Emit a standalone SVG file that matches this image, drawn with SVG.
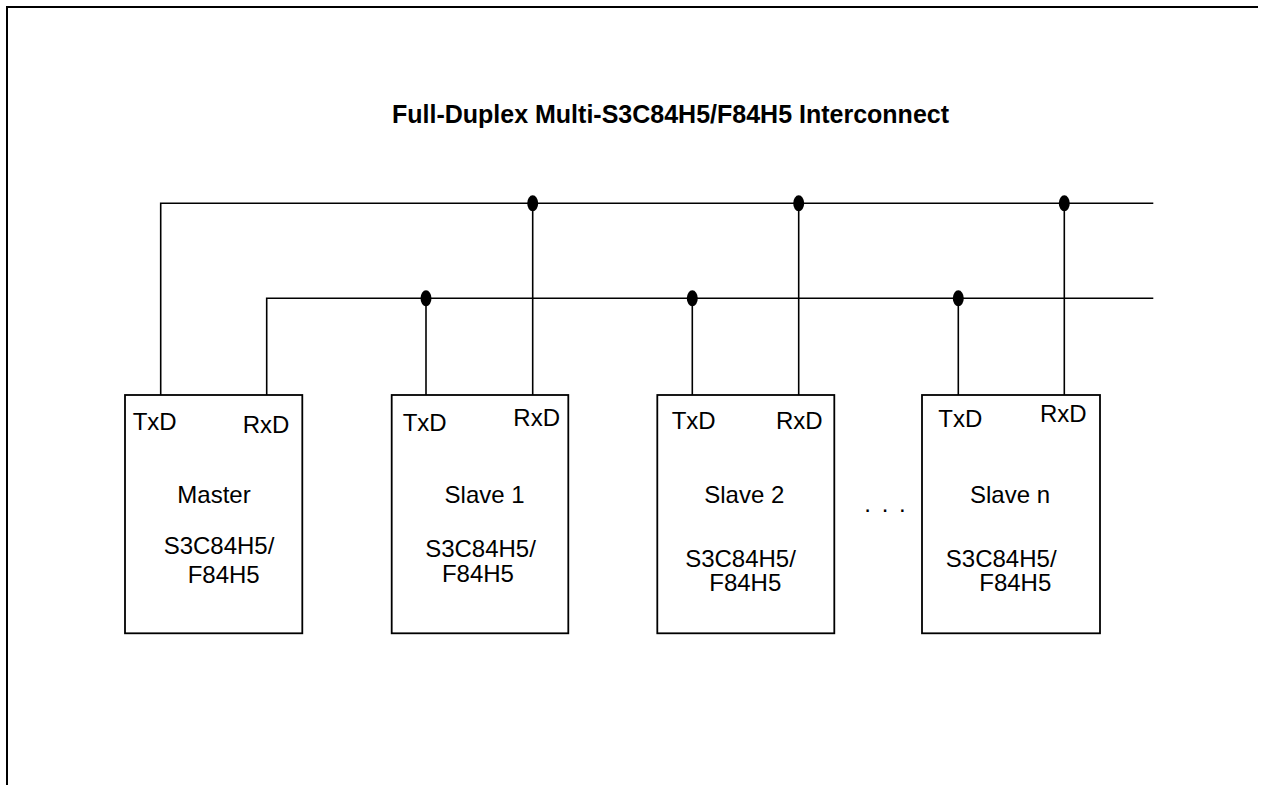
<svg xmlns="http://www.w3.org/2000/svg" width="1265" height="785" viewBox="0 0 1265 785">
<style>
.frame{fill:none;stroke:#000;stroke-width:2}
.box{fill:#fff;stroke:#000;stroke-width:1.8}
.wire{fill:none;stroke:#000;stroke-width:1.6}
.dot{fill:#000}
text{font-family:"Liberation Sans",Arial,sans-serif;font-size:24px;fill:#000}
.title{font-weight:bold;font-size:25px}
.c{text-anchor:middle}
</style>
<rect width="1265" height="785" fill="#fff"/>
<path class="frame" d="M7,785 V7 H1258"/>
<text class="title c" x="670.5" y="122.7">Full-Duplex Multi-S3C84H5/F84H5 Interconnect</text>
<g id="connectors">
<path class="wire" d="M160.7,395 V203.3 H1153.3"/>
<path class="wire" d="M266.7,395 V298.3 H1153.3"/>
<path class="wire" d="M426,395 V298.3"/>
<path class="wire" d="M532.7,395 V203.3"/>
<path class="wire" d="M692.3,395 V298.3"/>
<path class="wire" d="M798.7,395 V203.3"/>
<path class="wire" d="M958.3,395 V298.3"/>
<path class="wire" d="M1064.3,395 V203.3"/>
<ellipse class="dot" cx="532.7" cy="203.3" rx="5.5" ry="8"/>
<ellipse class="dot" cx="798.7" cy="203.3" rx="5.5" ry="8"/>
<ellipse class="dot" cx="1064.3" cy="203.3" rx="5.5" ry="8"/>
<ellipse class="dot" cx="426" cy="298.3" rx="5.5" ry="8"/>
<ellipse class="dot" cx="692.3" cy="298.3" rx="5.5" ry="8"/>
<ellipse class="dot" cx="958.3" cy="298.3" rx="5.5" ry="8"/>
</g>
<g id="master">
<rect class="box" x="125" y="395" width="177.3" height="238.3"/>
<text x="132.7" y="430">TxD</text>
<text x="242.7" y="433">RxD</text>
<text class="c" x="214" y="503.3">Master</text>
<text class="c" x="219" y="553.5">S3C84H5/</text>
<text class="c" x="223.7" y="583.3">F84H5</text>
</g>
<g id="slave1">
<rect class="box" x="391.7" y="395" width="176.6" height="238.3"/>
<text x="402.7" y="430.7">TxD</text>
<text x="513.3" y="425.7">RxD</text>
<text class="c" x="484.6" y="503.3">Slave 1</text>
<text class="c" x="480.5" y="557.3">S3C84H5/</text>
<text class="c" x="477.9" y="581.7">F84H5</text>
</g>
<g id="slave2">
<rect class="box" x="657.3" y="395" width="177" height="238.3"/>
<text x="671.7" y="429.3">TxD</text>
<text x="776" y="429.3">RxD</text>
<text class="c" x="744.3" y="503.3">Slave 2</text>
<text class="c" x="740.5" y="566.5">S3C84H5/</text>
<text class="c" x="745.3" y="591">F84H5</text>
</g>
<text class="c" x="886" y="512" style="letter-spacing:2px">. . .</text>
<g id="slaven">
<rect class="box" x="922" y="395" width="178" height="238.3"/>
<text x="938.3" y="427.3">TxD</text>
<text x="1040" y="422.3">RxD</text>
<text class="c" x="1010" y="502.7">Slave n</text>
<text class="c" x="1001.2" y="566.5">S3C84H5/</text>
<text class="c" x="1015.3" y="591">F84H5</text>
</g>
</svg>
